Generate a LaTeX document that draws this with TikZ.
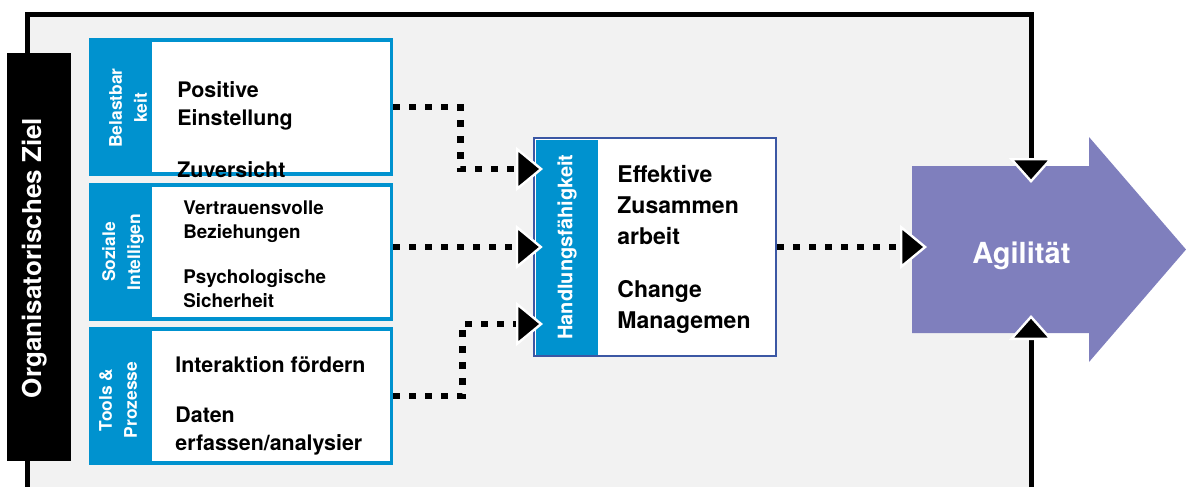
\documentclass[tikz,border=0pt]{standalone}
\usepackage{fontspec}
\setmainfont{TeX Gyre Heros}
\usetikzlibrary{arrows.meta,calc}
\definecolor{blueA}{RGB}{0,146,207}
\definecolor{dblue}{RGB}{59,87,164}
\definecolor{purp}{RGB}{127,127,189}
\definecolor{grayBG}{RGB}{242,242,242}
\tikzset{
  bluebox/.style={fill=blueA, draw=none, inner sep=0pt, rectangle},
  innerwhite/.style={fill=white},
  striplabel/.style={rotate=90, align=center, text=white, inner sep=0pt, font=\bfseries\fontsize{8.7}{12.5}\selectfont},
  bigtxt/.style={anchor=base west, inner sep=0pt, font=\bfseries\fontsize{10.7}{14}\selectfont},
  midtxt/.style={anchor=base west, inner sep=0pt, font=\bfseries\fontsize{9.4}{12}\selectfont},
  handtxt/.style={anchor=base west, inner sep=0pt, font=\bfseries\fontsize{11.5}{15}\selectfont},
  flowline/.style={line width=3.3pt, dash pattern=on 3.35pt off 4.65pt,
    -{Triangle[length=13.5pt,width=22pt,line width=1.2pt,color=white,fill=black]}},
  frameline/.style={line width=2.5pt, black},
  frametip/.style={-{Triangle[length=12.5pt,width=22pt,line width=1.2pt,color=white,fill=black]}}
}
\begin{document}
\begin{tikzpicture}[x=0.5pt,y=-0.5pt]
\useasboundingbox (0,0) rectangle (1186,487);
% background frame fill
\fill[grayBG] (27,14) rectangle (1031,487);
% Agilitaet arrow
\fill[purp] (912,166) -- (1089,166) -- (1089,137) -- (1186,249.5) -- (1089,362) -- (1089,333) -- (912,333) -- cycle;
\node[anchor=base west, inner sep=0pt, text=white, font=\bfseries\fontsize{14.5}{17}\selectfont] (agil) at (972,263) {Agilität};
\coordinate (agilin) at (927,247);
% frame lines
\coordinate (fTL) at (27,14);
\coordinate (fTR) at (1031,14);
\coordinate (fLtop) at (27,53);
\coordinate (fLbot) at (27,461);
\coordinate (fLend) at (27,487);
\coordinate (fRtop) at (1031,183);
\coordinate (fRbot) at (1031,315);
\coordinate (fRend) at (1031,487);
\draw[frameline] (fLtop) -- (fTL) -- (fTR) -- ($(fRtop)+(0,-20)$);
\draw[frameline] (fRend) -- ($(fRbot)+(0,20)$);
\draw[frameline] (fLbot) -- (fLend);
\draw[frameline, frametip] ($(fRtop)+(0,-40)$) -- (fRtop);
\draw[frameline, frametip] ($(fRbot)+(0,40)$) -- (fRbot);
% black goal bar
\node[fill=black, inner sep=0pt, minimum width=32pt, minimum height=204pt] (goal) at (39,257) {};
\node[rotate=90, text=white, inner sep=0pt, font=\bfseries\fontsize{13}{15}\selectfont] (goaltxt) at (35,258) {Organisatorisches Ziel};
% left boxes
\node[bluebox, minimum width=152pt, minimum height=69pt] (b1) at (241,107) {};
\fill[innerwhite] (152,42) rectangle (390,172);
\node[bluebox, minimum width=152pt, minimum height=69pt] (b2) at (241,252) {};
\fill[innerwhite] (152,187) rectangle (390,317);
\node[bluebox, minimum width=152pt, minimum height=69pt] (b3) at (241,396) {};
\fill[innerwhite] (152,331) rectangle (390,461);
\node[striplabel] (l1) at (128,108) {Belastbar\\keit};
\node[striplabel] (l2) at (123,252) {Soziale\\Intelligen};
\node[striplabel] (l3) at (118,400) {Tools \&\\Prozesse};
\node[bigtxt] (t11) at (177,97) {Positive};
\node[bigtxt] (t12) at (177,125) {Einstellung};
\node[bigtxt] (t13) at (177,177) {Zuversicht};
\node[midtxt] (t21) at (183,214) {Vertrauensvolle};
\node[midtxt] (t22) at (183,238) {Beziehungen};
\node[midtxt] (t23) at (183,283) {Psychologische};
\node[midtxt] (t24) at (183,307) {Sicherheit};
\node[bigtxt] (t31) at (175,372) {Interaktion fördern};
\node[bigtxt] (t32) at (175,422) {Daten};
\node[bigtxt] (t33) at (175,450) {erfassen/analysier};
% middle box
\node[draw=dblue, line width=1.25pt, fill=white, inner sep=0pt, minimum width=121pt, minimum height=109pt] (hand) at (655,247) {};
\fill[blueA] (535.5,139.5) rectangle (598,354.5);
\node[striplabel, font=\bfseries\fontsize{10}{12}\selectfont] (lh) at (567,247) {Handlungsfähigkeit};
\node[handtxt] (h1) at (617,182) {Effektive};
\node[handtxt] (h2) at (617,213) {Zusammen};
\node[handtxt] (h3) at (617,244) {arbeit};
\node[handtxt] (h4) at (617,297) {Change};
\node[handtxt] (h5) at (617,328) {Managemen};
% connectors
\coordinate (in1) at (543,169);
\coordinate (in3) at (543,324);
\draw[flowline] (b1.east) -- ++(67,0) |- (in1);
\draw[flowline] (b2.east |- hand.west) -- ($(hand.west)+(10,0)$);
\draw[flowline] (b3.east) -- ++(69,0) |- (in3);
\draw[flowline] (hand.east) -- (agilin);
\end{tikzpicture}
\end{document}
